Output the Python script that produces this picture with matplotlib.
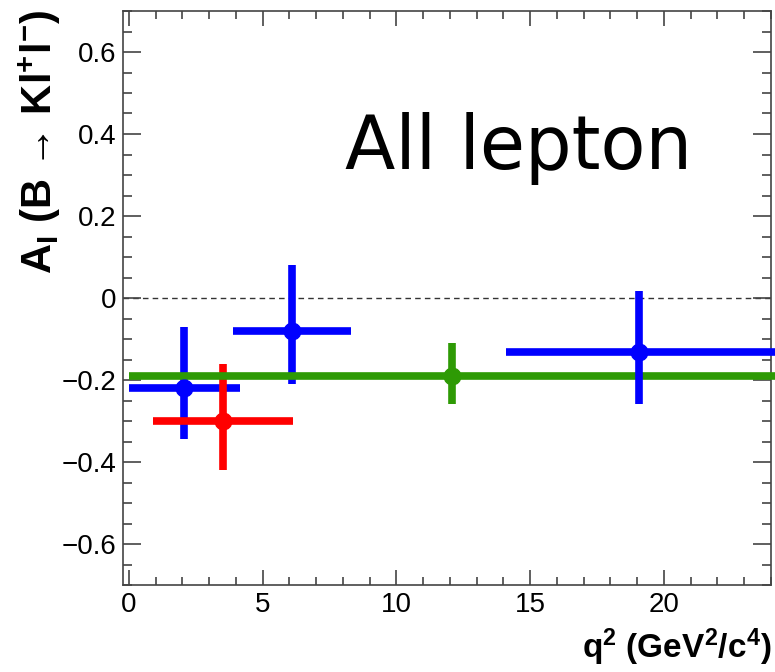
import matplotlib
matplotlib.use("Agg")
import matplotlib.pyplot as plt
from matplotlib.ticker import MultipleLocator
import numpy as np

# ---- data ----
q2_center = [2.07, 3.53, 6.10, 12.07, 19.07]
q2_low    = [0.00, 0.90, 3.90, 0.00, 14.10]
q2_high   = [4.15, 6.15, 8.30, 24.20, 24.20]
AI_value  = [-0.22, -0.30, -0.08, -0.19, -0.132]
AI_err_up = [0.150, 0.140, 0.160, 0.080, 0.150]
AI_err_dn = [0.125, 0.120, 0.130, 0.068, 0.126]
colors    = ["#0000ff", "#ff0000", "#0000ff", "#2e9a05", "#0000ff"]

x_ticks = [0, 5, 10, 15, 20]
y_ticks = [-0.6, -0.4, -0.2, 0, 0.2, 0.4, 0.6]

plt.rcParams['font.family'] = ['Liberation Sans', 'DejaVu Sans']
plt.rcParams['mathtext.fontset'] = 'custom'
plt.rcParams['mathtext.rm'] = 'Liberation Sans'
plt.rcParams['mathtext.bf'] = 'Liberation Sans:bold'
plt.rcParams['mathtext.it'] = 'Liberation Sans:italic'
plt.rcParams['mathtext.default'] = 'bf'

fig = plt.figure(figsize=(7.75, 6.72), dpi=100)
ax = fig.add_axes([123/775, 87/672, 648/775, 574/672])

ax.axhline(0, color="#333333", lw=1.0, ls=(0, (4, 3)), zorder=1)

for i in range(len(q2_center)):
    xc = q2_center[i]
    ax.errorbar([xc], [AI_value[i]],
                xerr=[[xc - q2_low[i]], [q2_high[i] - xc]],
                yerr=[[AI_err_dn[i]], [AI_err_up[i]]],
                fmt='o', color=colors[i], ms=12, elinewidth=5.5, capsize=0,
                clip_on=False, zorder=3)

ax.set_xlim(-0.22, 24.0)
ax.set_ylim(-0.7, 0.7)
ax.set_xticks(x_ticks)
ax.set_yticks(y_ticks)
ax.set_xticklabels([str(v) for v in x_ticks])
ax.set_yticklabels(["\u22120.6", "\u22120.4", "\u22120.2", "0", "0.2", "0.4", "0.6"])
ax.xaxis.set_minor_locator(MultipleLocator(1))
ax.yaxis.set_minor_locator(MultipleLocator(0.05))

for s in ax.spines.values():
    s.set_color("#444444")
    s.set_linewidth(1.2)

ax.tick_params(axis='both', which='both', direction='in', top=True, right=True,
               colors="#444444", labelcolor='black', labelsize=20, width=1.2)
ax.tick_params(axis='x', which='major', length=11, pad=5)
ax.tick_params(axis='x', which='minor', length=6)
ax.tick_params(axis='y', which='major', length=13, pad=5)
ax.tick_params(axis='y', which='minor', length=6.5)

ax.text(0.3426, 0.775, "All lepton", transform=ax.transAxes,
        fontsize=53, family='DejaVu Sans', ha='left', va='center_baseline',
        color='black')

fig.text(40/775, 1 - 10/672, 'A$_{I}$ (B \u2192 Kl$^{+}$l$^{-}$)',
         rotation=90, ha='center', va='top', fontsize=30, fontweight='bold')
fig.text(771/775, 1 - 668/672, r'q$^{2}$ (GeV$^{2}$/c$^{4}$)',
         ha='right', va='bottom', fontsize=24, fontweight='bold')

fig.savefig("out.png", dpi=100)
